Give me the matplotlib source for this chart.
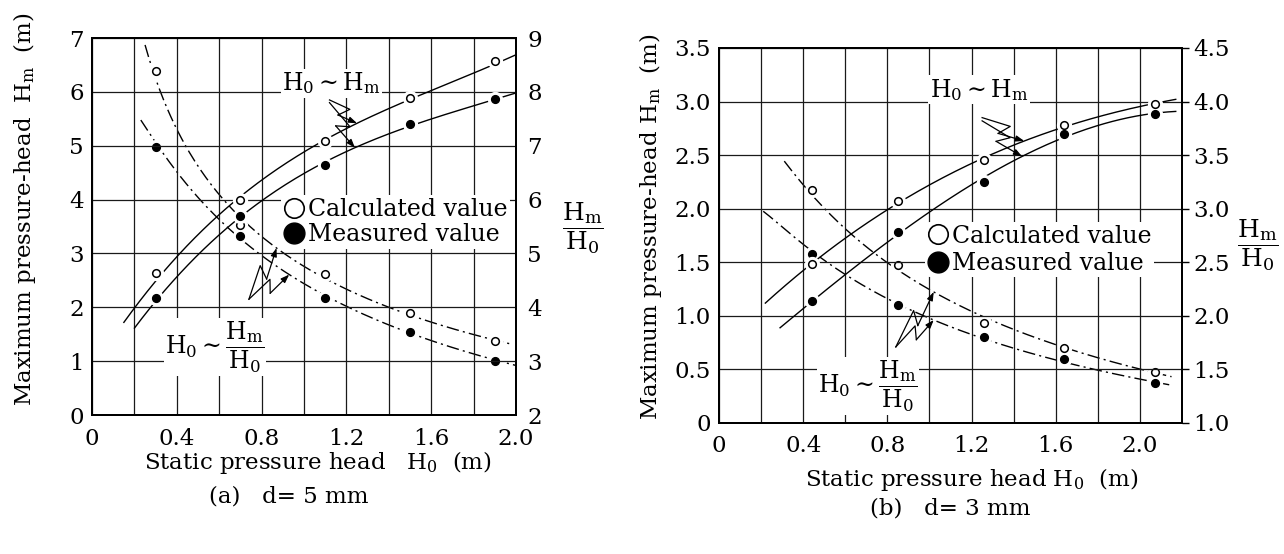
import numpy as np
import matplotlib
matplotlib.use("Agg")
import matplotlib.pyplot as plt
from matplotlib.lines import Line2D

plt.rcParams["font.family"] = "DejaVu Serif"
plt.rcParams["mathtext.fontset"] = "dejavuserif"

# ---- (a) d = 5 mm ----
h0_a = [0.30, 0.70, 1.10, 1.50, 1.90]
hm_calc_a = [2.63, 4.00, 5.09, 5.88, 6.57]
hm_meas_a = [2.18, 3.69, 4.64, 5.41, 5.86]
ratio_calc_a = [8.38, 5.53, 4.62, 3.89, 3.38]
ratio_meas_a = [6.98, 5.32, 4.18, 3.55, 3.00]
# where the hand-drawn curves start and stop (x, y)
ends_hm_calc_a = [(0.15, 1.63), (2.00, 6.64)]
ends_hm_meas_a = [(0.20, 1.56), (2.00, 5.97)]
ends_ratio_calc_a = [(0.25, 8.79), (1.98, 3.29)]
ends_ratio_meas_a = [(0.23, 7.53), (2.00, 2.93)]

# ---- (b) d = 3 mm ----
h0_b = [0.44, 0.85, 1.26, 1.64, 2.07]
hm_calc_b = [1.48, 2.07, 2.45, 2.78, 2.98]
hm_meas_b = [1.14, 1.78, 2.25, 2.70, 2.88]
ratio_calc_b = [3.17, 2.47, 1.93, 1.70, 1.48]
ratio_meas_b = [2.58, 2.10, 1.80, 1.60, 1.37]
ends_hm_calc_b = [(0.22, 1.12), (2.17, 3.02)]
ends_hm_meas_b = [(0.29, 0.88), (2.17, 2.91)]
ends_ratio_calc_b = [(0.31, 3.41), (2.15, 1.44)]
ends_ratio_meas_b = [(0.21, 2.99), (2.15, 1.34)]

FS = 16.5
DASHDOT = (0, (9, 3, 1.5, 3))


def fit_curve(x, y, ends, loglog=False):
    xs = np.array([ends[0][0]] + list(x) + [ends[1][0]])
    ys = np.array([ends[0][1]] + list(y) + [ends[1][1]])
    xx = np.linspace(ends[0][0], ends[1][0], 200)
    if loglog:
        c = np.polyfit(np.log(xs), np.log(ys), 2)
        f = lambda t: np.exp(np.polyval(c, np.log(t)))
    else:
        c = np.polyfit(xs, ys, 3)
        f = lambda t: np.polyval(c, t)
    return xx, f(xx), f


def series(ax, x, y, ends, ls, filled, loglog=False):
    xx, yy, f = fit_curve(x, y, ends, loglog)
    ax.plot(xx, yy, color="black", lw=1.0, ls=ls, zorder=2)
    ax.plot(x, y, "o", ms=10, color="white", zorder=3)
    ax.plot(x, y, "o", ms=5.5, mec="black", mew=1.1,
            mfc="black" if filled else "white", zorder=4)
    return f


def bolt(ax, start, tip_ax, tip_x, curve):
    # zigzag "lightning" pointer from a label to a curve
    p0 = ax.transData.transform(start)
    p1 = tip_ax.transData.transform((tip_x, curve(tip_x)))
    d = p1 - p0
    n = np.array([-d[1], d[0]]) / np.hypot(*d)
    m1 = p0 + 0.60 * d + 6 * n
    m2 = p0 + 0.45 * d - 6 * n
    inv = ax.transData.inverted()
    pts = inv.transform(np.array([p0, m1, m2]))
    ax.plot(pts[:, 0], pts[:, 1], color="black", lw=0.9, zorder=6)
    ax.annotate("", xy=inv.transform(p1), xytext=pts[2],
                arrowprops=dict(arrowstyle="-|>,head_length=0.5,head_width=0.18",
                                color="black", lw=0.9, shrinkA=0, shrinkB=0),
                zorder=6)


def panel(rect, xlim, ylim, ylim_r, yticks, yticks_r, ylabels, ylabels_r):
    ax = fig.add_axes(rect)
    ax2 = ax.twinx()
    ax.set_zorder(ax2.get_zorder() + 1)
    ax.patch.set_visible(False)
    ax.set_xlim(*xlim)
    ax.set_ylim(*ylim)
    ax2.set_ylim(*ylim_r)
    ax.set_xticks([0, 0.4, 0.8, 1.2, 1.6, 2.0])
    ax.set_xticklabels(["0", "0.4", "0.8", "1.2", "1.6", "2.0"])
    ax.set_xticks(np.arange(0.2, xlim[1] - 0.01, 0.2), minor=True)
    ax.set_yticks(yticks)
    ax.set_yticklabels(ylabels)
    ax2.set_yticks(yticks_r)
    ax2.set_yticklabels(ylabels_r)
    ax.grid(True, which="both", axis="x", color="#1a1a1a", lw=0.9)
    ax.grid(True, which="major", axis="y", color="#1a1a1a", lw=0.9)
    ax.tick_params(which="both", length=0, labelsize=FS, pad=6)
    ax.tick_params(axis="x", pad=9)
    ax2.tick_params(length=0, labelsize=FS, pad=8)
    for a in (ax, ax2):
        for s in a.spines.values():
            s.set_linewidth(1.4)
    return ax, ax2


fig = plt.figure(figsize=(12.84, 5.54), dpi=100)
box = dict(facecolor="white", edgecolor="none", pad=1)

# ---------------- panel (a) ----------------
axa, axa2 = panel([0.0717, 0.2509, 0.3302, 0.6805], (0, 2.0), (0, 7), (2, 9),
                  range(0, 8), range(2, 10),
                  [str(v) for v in range(0, 8)], [str(v) for v in range(2, 10)])
f_hc_a = series(axa, h0_a, hm_calc_a, ends_hm_calc_a, "-", False)
f_hm_a = series(axa, h0_a, hm_meas_a, ends_hm_meas_a, "-", True)
f_rc_a = series(axa2, h0_a, ratio_calc_a, ends_ratio_calc_a, DASHDOT, False, True)
f_rm_a = series(axa2, h0_a, ratio_meas_a, ends_ratio_meas_a, DASHDOT, True, True)

axa.text(1.13, 6.16, r"$\mathrm{H_0 \sim H_m}$", fontsize=17,
         ha="center", va="center", bbox=box, zorder=5)
axa.text(0.58, 1.26, r"$\mathrm{H_0 \sim \dfrac{H_m}{H_0}}$", fontsize=17,
         ha="center", va="center", bbox=box, zorder=5)
bolt(axa, (1.12, 5.85), axa, 1.25, f_hc_a)
bolt(axa, (1.12, 5.80), axa, 1.24, f_hm_a)
bolt(axa, (0.74, 2.15), axa2, 0.87, f_rc_a)
bolt(axa, (0.74, 2.15), axa2, 0.93, f_rm_a)

axa.set_ylabel(r"Maximum pressure-head  $\mathrm{H_m}$  (m)", fontsize=FS)
axa.yaxis.set_label_coords(-0.128, 0.546)
axa2.set_ylabel(r"$\mathrm{\dfrac{H_m}{H_0}}$", fontsize=18, rotation=0,
                va="center", ha="center")
axa2.yaxis.set_label_coords(1.158, 0.496)

# ---------------- panel (b) ----------------
axb, axb2 = panel([0.560, 0.2365, 0.3606, 0.6769], (0, 2.2), (0, 3.5), (1.0, 4.5),
                  np.arange(0, 3.51, 0.5), np.arange(1.0, 4.51, 0.5),
                  ["0", "0.5", "1.0", "1.5", "2.0", "2.5", "3.0", "3.5"],
                  ["1.0", "1.5", "2.0", "2.5", "3.0", "3.5", "4.0", "4.5"])
axb2.tick_params(length=5, width=1.0, direction="out", pad=3)
f_hc_b = series(axb, h0_b, hm_calc_b, ends_hm_calc_b, "-", False)
f_hm_b = series(axb, h0_b, hm_meas_b, ends_hm_meas_b, "-", True)
f_rc_b = series(axb2, h0_b, ratio_calc_b, ends_ratio_calc_b, DASHDOT, False, True)
f_rm_b = series(axb2, h0_b, ratio_meas_b, ends_ratio_meas_b, DASHDOT, True, True)

axb.text(1.235, 3.11, r"$\mathrm{H_0 \sim H_m}$", fontsize=17,
         ha="center", va="center", bbox=box, zorder=5)
axb.text(0.708, 0.345, r"$\mathrm{H_0 \sim \dfrac{H_m}{H_0}}$", fontsize=17,
         ha="center", va="center", bbox=box, zorder=5)
bolt(axb, (1.25, 2.85), axb, 1.45, f_hc_b)
bolt(axb, (1.25, 2.82), axb, 1.44, f_hm_b)
bolt(axb, (0.84, 0.71), axb2, 1.02, f_rc_b)
bolt(axb, (0.84, 0.71), axb2, 1.02, f_rm_b)

axb.set_ylabel(r"Maximum pressure-head $\mathrm{H_m}$  (m)", fontsize=FS)
axb.yaxis.set_label_coords(-0.118, 0.523)
axb2.set_ylabel(r"$\mathrm{\dfrac{H_m}{H_0}}$", fontsize=18, rotation=0,
                va="center", ha="center")
axb2.yaxis.set_label_coords(1.164, 0.475)

# legends
for ax, anchor, sp in ((axa, (0.445, 0.512), 0.1), (axb, (0.445, 0.462), 0.18)):
    handles = [
        Line2D([], [], marker="o", ls="none", ms=14, mfc="white", mec="black",
               mew=1.2, label="Calculated value"),
        Line2D([], [], marker="o", ls="none", ms=15, mfc="black", mec="black",
               label="Measured value"),
    ]
    leg = ax.legend(handles=handles, loc="center left", bbox_to_anchor=anchor,
                    fontsize=17, frameon=True, facecolor="white", edgecolor="none",
                    framealpha=1, handlelength=0.9, handletextpad=0.15,
                    borderpad=0.1, labelspacing=sp, borderaxespad=0)
    leg.set_zorder(7)

# x labels and captions
fig.text(0.2477, 0.1643, r"Static pressure head   $\mathrm{H_0}$  (m)",
         fontsize=FS, ha="center", va="center")
fig.text(0.225, 0.1030, "(a)   d= 5 mm", fontsize=FS, ha="center", va="center")
fig.text(0.757, 0.1336, r"Static pressure head $\mathrm{H_0}$  (m)",
         fontsize=FS, ha="center", va="center")
fig.text(0.740, 0.0830, "(b)   d= 3 mm", fontsize=FS, ha="center", va="center")

fig.savefig("out.png", dpi=100, facecolor="white")
